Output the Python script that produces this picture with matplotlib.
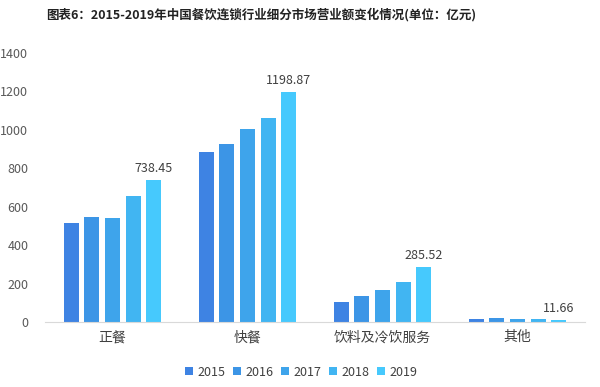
import matplotlib.pyplot as plt
import numpy as np

plt.rcParams['font.family'] = ['Noto Sans CJK SC', 'DejaVu Sans']

categories = ["正餐", "快餐", "饮料及冷饮服务", "其他"]
years = ["2015", "2016", "2017", "2018", "2019"]
values = {
    "2015": [517, 884, 103, 16],
    "2016": [545, 927, 134, 21],
    "2017": [540, 1007, 165, 16],
    "2018": [658, 1062, 207, 16],
    "2019": [738.45, 1198.87, 285.52, 11.66],
}
colors = ["#3e83e3", "#3c95e6", "#3ea4eb", "#41b5f2", "#46c9fd"]

fig = plt.figure(figsize=(6, 3.87), dpi=100)
ax = fig.add_axes([0.075, 0.168, 0.9, 0.695])

x = np.arange(len(categories))
step = 0.153
width = 0.113
for i, yr in enumerate(years):
    bars = ax.bar(x + (i - 2) * step, values[yr], width, color=colors[i], label=yr, zorder=2)
    if yr == "2019":
        for b, v in zip(bars, values[yr]):
            ax.text(b.get_x() + b.get_width() / 2, v + 25, f"{v:.2f}",
                    ha="center", va="bottom", fontsize=9, color="#404040")

ax.set_xlim(-0.5, len(categories) - 0.5)
ax.set_ylim(0, 1400)
ax.set_yticks(range(0, 1401, 200))
ax.set_xticks(x)
ax.set_xticklabels(categories, fontsize=10, color="#404040")
ax.tick_params(axis="y", labelsize=9, colors="#595959", length=0, pad=12)
ax.tick_params(axis="x", length=0, pad=6)
for s in ["top", "right", "left"]:
    ax.spines[s].set_visible(False)
ax.spines["bottom"].set_color("#d9d9d9")

ax.legend(loc="upper center", bbox_to_anchor=(0.475, -0.12), ncol=5, frameon=False,
          fontsize=9, handlelength=0.6, handleheight=0.6, columnspacing=0.6,
          handletextpad=0.4, labelcolor="#404040")

fig.text(0.435, 0.963, "图表6：2015-2019年中国餐饮连锁行业细分市场营业额变化情况(单位：亿元)",
         ha="center", va="center", fontsize=9, fontweight="bold", color="#222222")

fig.savefig("out.png", dpi=100)
